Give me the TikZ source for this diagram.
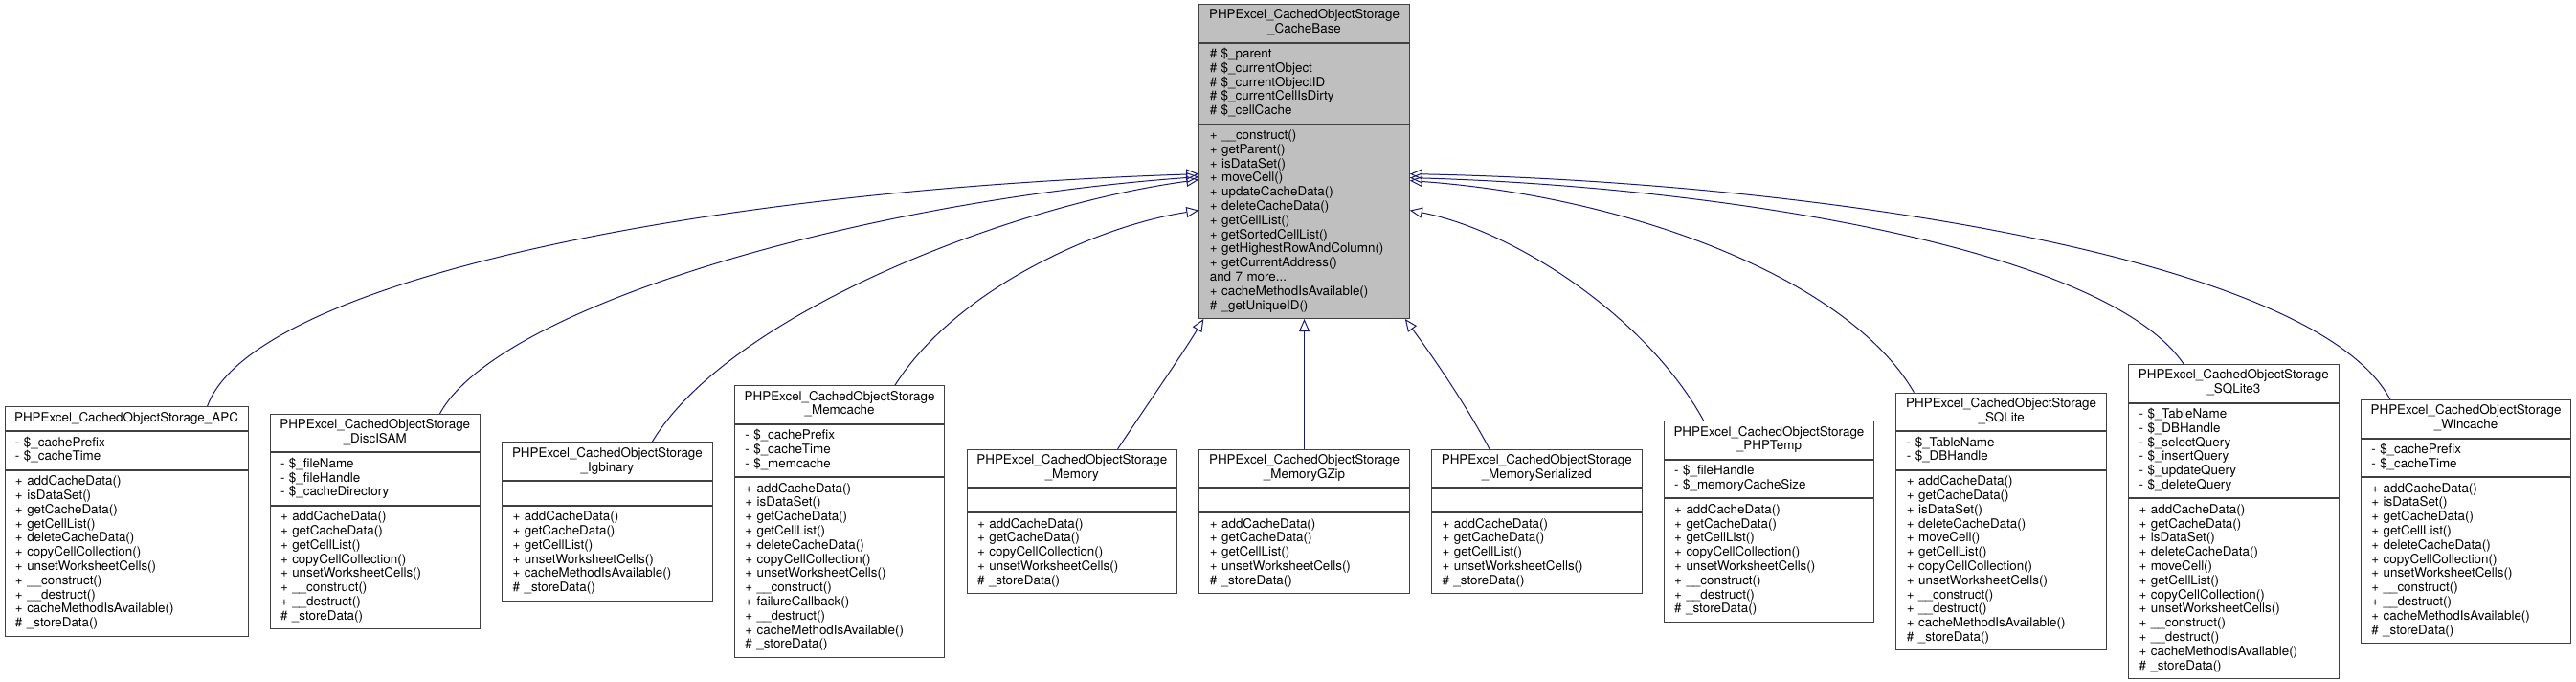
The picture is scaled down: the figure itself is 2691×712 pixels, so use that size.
\documentclass[tikz,border=0pt]{standalone}
\usepackage{fontspec}
\setmainfont{TeX Gyre Heros}
\usetikzlibrary{arrows.meta}
\definecolor{edgeblue}{HTML}{191970}
\definecolor{basefill}{HTML}{BFBFBF}
\definecolor{bord}{HTML}{404040}
\hyphenpenalty=10000
\exhyphenpenalty=10000
\newcommand\umlclass[8][]{%
  \pgfmathsetmacro\twA{#5-22}%
  \pgfmathsetmacro\twT{#5-10}%
  \node[sec,#1,align=center,inner xsep=5pt,text width=\twT pt] (#2-t) at (#3,#4) {#6};
  \node[sec,#1,text width=\twA pt] (#2-a) at (#2-t.south) {#7};
  \node[sec,#1,text width=\twA pt] (#2-m) at (#2-a.south) {#8};
}
\begin{document}
\begin{tikzpicture}[x=1pt,y=-1pt,
  sec/.style={draw=bord, line width=1pt, inner xsep=11pt, inner ysep=5pt, anchor=north, align=left,
    font=\fontsize{13.4}{14.8}\selectfont, execute at begin node=\strut, execute at end node=\strut},
  inh/.style={draw=edgeblue, line width=1pt, -{Triangle[open,length=13pt,width=11pt]}}]
\useasboundingbox (0,0) rectangle (2691,712);

\umlclass[fill=basefill]{base}{1362.55}{4}{219.5}
  {PHPExcel\_CachedObjectStorage\\\_CacheBase}
  {\# \$\_parent\\\# \$\_currentObject\\\# \$\_currentObjectID\\\# \$\_currentCellIsDirty\\\# \$\_cellCache}
  {+ \_\_construct()\\+ getParent()\\+ isDataSet()\\+ moveCell()\\+ updateCacheData()\\+ deleteCacheData()\\+ getCellList()\\+ getSortedCellList()\\+ getHighestRowAndColumn()\\+ getCurrentAddress()\\and 7 more...\\+ cacheMethodIsAvailable()\\\# \_getUniqueID()}

\umlclass{apc}{132}{424.4}{254}
  {PHPExcel\_CachedObjectStorage\_APC}
  {- \$\_cachePrefix\\- \$\_cacheTime}
  {+ addCacheData()\\+ isDataSet()\\+ getCacheData()\\+ getCellList()\\+ deleteCacheData()\\+ copyCellCollection()\\+ unsetWorksheetCells()\\+ \_\_construct()\\+ \_\_destruct()\\+ cacheMethodIsAvailable()\\\# \_storeData()}

\umlclass{disc}{391.75}{431.8}{219.5}
  {PHPExcel\_CachedObjectStorage\\\_DiscISAM}
  {- \$\_fileName\\- \$\_fileHandle\\- \$\_cacheDirectory}
  {+ addCacheData()\\+ getCacheData()\\+ getCellList()\\+ copyCellCollection()\\+ unsetWorksheetCells()\\+ \_\_construct()\\+ \_\_destruct()\\\# \_storeData()}

\umlclass{igb}{634.45}{461.4}{219.5}
  {PHPExcel\_CachedObjectStorage\\\_Igbinary}
  {}
  {+ addCacheData()\\+ getCacheData()\\+ getCellList()\\+ unsetWorksheetCells()\\+ cacheMethodIsAvailable()\\\# \_storeData()}

\umlclass{memc}{877.15}{402.2}{219.5}
  {PHPExcel\_CachedObjectStorage\\\_Memcache}
  {- \$\_cachePrefix\\- \$\_cacheTime\\- \$\_memcache}
  {+ addCacheData()\\+ isDataSet()\\+ getCacheData()\\+ getCellList()\\+ deleteCacheData()\\+ copyCellCollection()\\+ unsetWorksheetCells()\\+ \_\_construct()\\+ failureCallback()\\+ \_\_destruct()\\+ cacheMethodIsAvailable()\\\# \_storeData()}

\umlclass{mem}{1119.85}{468.8}{219.5}
  {PHPExcel\_CachedObjectStorage\\\_Memory}
  {}
  {+ addCacheData()\\+ getCacheData()\\+ copyCellCollection()\\+ unsetWorksheetCells()\\\# \_storeData()}

\umlclass{gzip}{1362.55}{468.8}{219.5}
  {PHPExcel\_CachedObjectStorage\\\_MemoryGZip}
  {}
  {+ addCacheData()\\+ getCacheData()\\+ getCellList()\\+ unsetWorksheetCells()\\\# \_storeData()}

\umlclass{ser}{1605.25}{468.8}{219.5}
  {PHPExcel\_CachedObjectStorage\\\_MemorySerialized}
  {}
  {+ addCacheData()\\+ getCacheData()\\+ getCellList()\\+ unsetWorksheetCells()\\\# \_storeData()}

\umlclass{php}{1847.95}{439.2}{219.5}
  {PHPExcel\_CachedObjectStorage\\\_PHPTemp}
  {- \$\_fileHandle\\- \$\_memoryCacheSize}
  {+ addCacheData()\\+ getCacheData()\\+ getCellList()\\+ copyCellCollection()\\+ unsetWorksheetCells()\\+ \_\_construct()\\+ \_\_destruct()\\\# \_storeData()}

\umlclass{sql}{2090.65}{409.6}{219.5}
  {PHPExcel\_CachedObjectStorage\\\_SQLite}
  {- \$\_TableName\\- \$\_DBHandle}
  {+ addCacheData()\\+ getCacheData()\\+ isDataSet()\\+ deleteCacheData()\\+ moveCell()\\+ getCellList()\\+ copyCellCollection()\\+ unsetWorksheetCells()\\+ \_\_construct()\\+ \_\_destruct()\\+ cacheMethodIsAvailable()\\\# \_storeData()}

\umlclass{sqlt}{2333.35}{380}{219.5}
  {PHPExcel\_CachedObjectStorage\\\_SQLite3}
  {- \$\_TableName\\- \$\_DBHandle\\- \$\_selectQuery\\- \$\_insertQuery\\- \$\_updateQuery\\- \$\_deleteQuery}
  {+ addCacheData()\\+ getCacheData()\\+ isDataSet()\\+ deleteCacheData()\\+ moveCell()\\+ getCellList()\\+ copyCellCollection()\\+ unsetWorksheetCells()\\+ \_\_construct()\\+ \_\_destruct()\\+ cacheMethodIsAvailable()\\\# \_storeData()}

\umlclass{win}{2576.05}{417}{219.5}
  {PHPExcel\_CachedObjectStorage\\\_Wincache}
  {- \$\_cachePrefix\\- \$\_cacheTime}
  {+ addCacheData()\\+ isDataSet()\\+ getCacheData()\\+ getCellList()\\+ deleteCacheData()\\+ copyCellCollection()\\+ unsetWorksheetCells()\\+ \_\_construct()\\+ \_\_destruct()\\+ cacheMethodIsAvailable()\\\# \_storeData()}

% inheritance edges
\draw[inh] ([xshift=212pt]apc-t.north west) .. controls (260,300) and (700,200) .. ([yshift=-52pt]base-m.north west);
\draw[inh] ([xshift=178pt]disc-t.north west) .. controls (520,320) and (900,210) .. ([yshift=-55pt]base-m.north west);
\draw[inh] ([xshift=157pt]igb-t.north west) .. controls (760,330) and (1050,215) .. ([yshift=-58pt]base-m.north west);
\draw[inh] ([xshift=168pt]memc-t.north west) .. controls (1000,300) and (1150,235) .. ([yshift=-90pt]base-m.north west);
\draw[inh] ([xshift=158pt]mem-t.north west) .. controls (1200,420) and (1235,370) .. ([xshift=5pt]base-m.south west);
\draw[inh] (gzip-t.north) -- (base-m.south);
\draw[inh] ([xshift=61pt]ser-t.north west) .. controls (1530,420) and (1495,370) .. ([xshift=-5pt]base-m.south east);
\draw[inh] ([xshift=42pt]php-t.north west) .. controls (1720,330) and (1580,240) .. ([yshift=-90pt]base-m.north east);
\draw[inh] ([xshift=19pt]sql-t.north west) .. controls (1930,290) and (1700,205) .. ([yshift=-59pt]base-m.north east);
\draw[inh] ([xshift=58pt]sqlt-t.north west) .. controls (2200,260) and (1800,195) .. ([yshift=-56pt]base-m.north east);
\draw[inh] ([xshift=31pt]win-t.north west) .. controls (2420,270) and (1900,190) .. ([yshift=-52pt]base-m.north east);
\end{tikzpicture}
\end{document}
